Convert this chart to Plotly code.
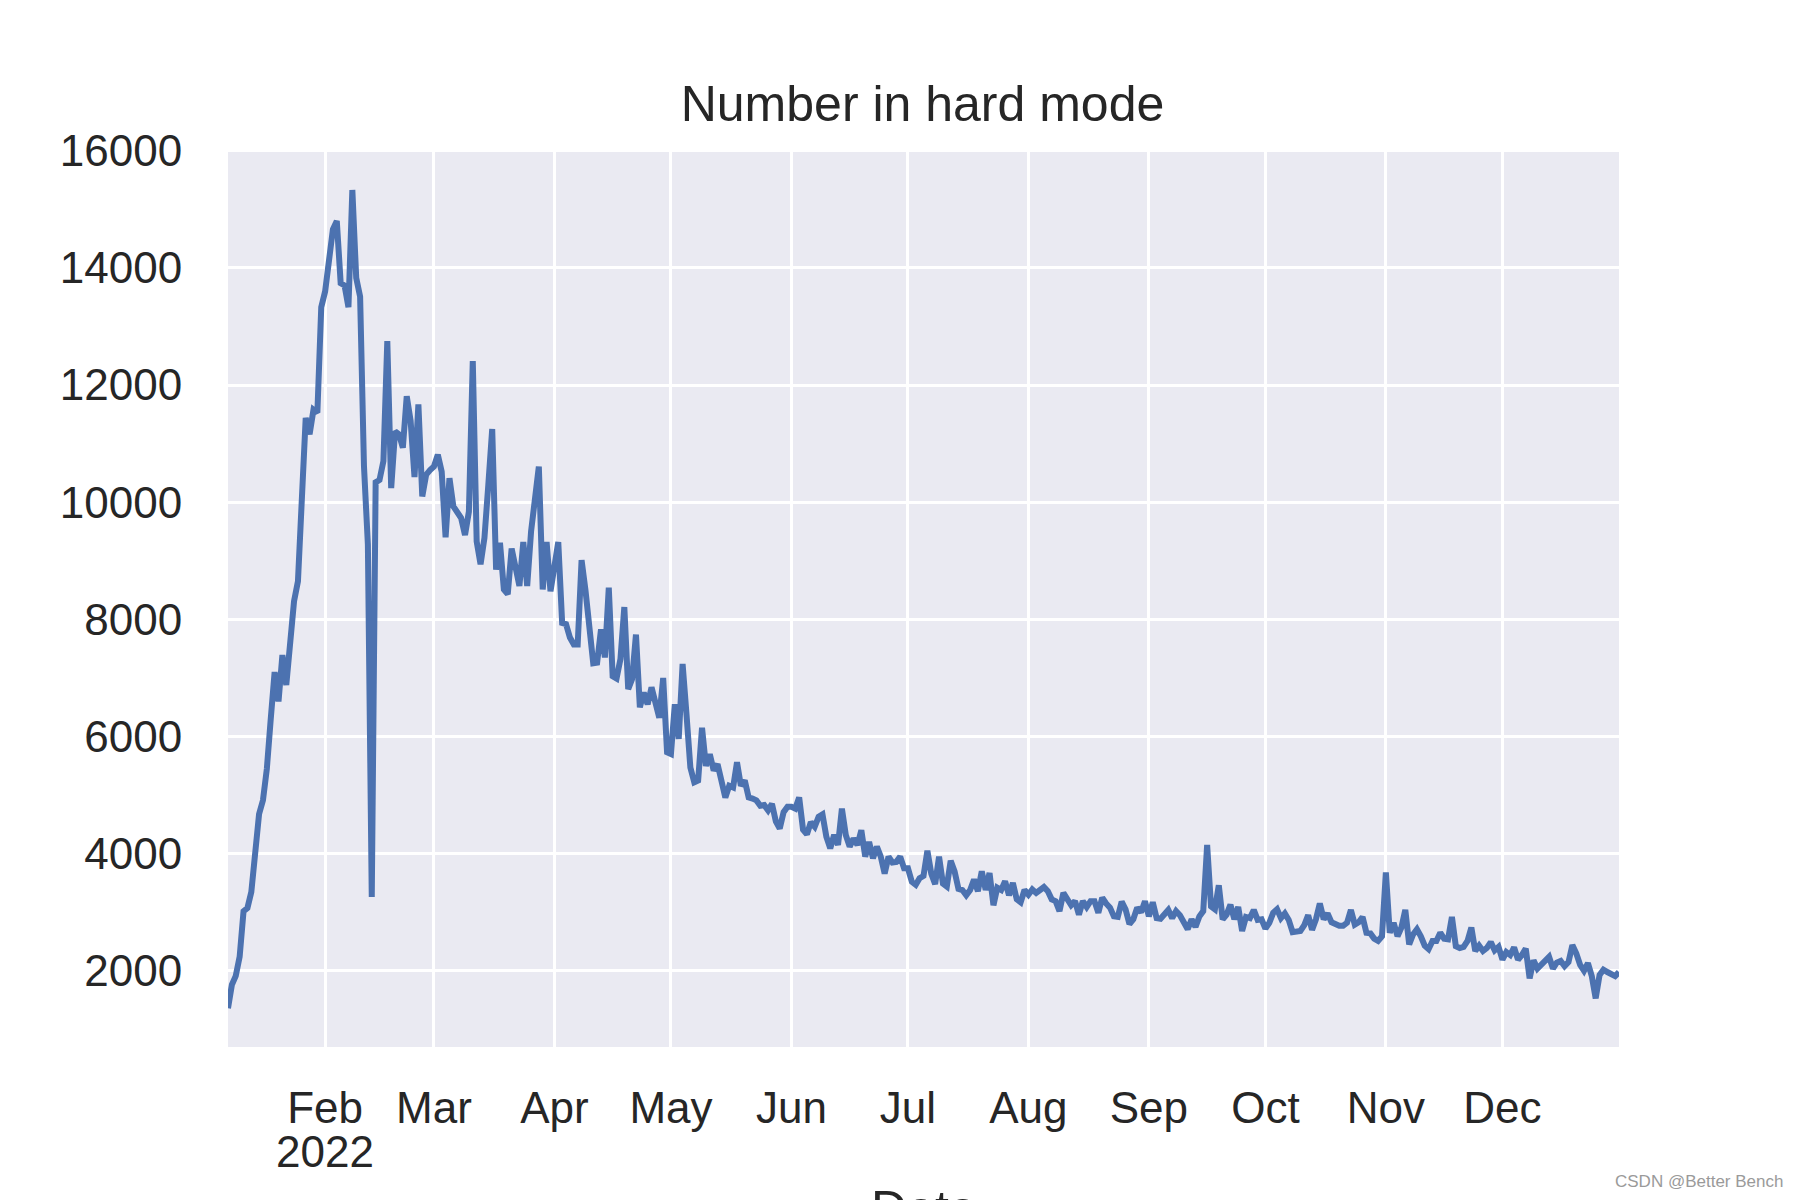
import pandas as pd
import plotly.graph_objects as go

start_date = "2022-01-07"
end_date = "2022-12-31"

jan = [1362, 1763, 1913, 2242, 3017, 3073, 3345, 4072, 4677, 4913, 5450, 6300, 7100, 6600,
       7390, 6880, 7700, 8310, 8650, 10050, 11440, 11160, 11580, 11530, 13330]
feb = [13600, 14200, 14660, 14800, 13740, 13700, 13330, 15330, 13830, 13510, 10610, 9280, 3260,
       10340, 10380, 10700, 12750, 10240, 11210, 11160, 10930, 11810, 11390, 10430, 11670, 10100,
       10470, 10550]
mar = [10610, 10810, 10520, 9400, 10410, 9930, 9820, 9730, 9440, 9840, 12410, 9330, 8940, 9390,
       10300, 11250, 8850, 9310, 8510, 8430, 9210, 8850, 8570, 9320, 8570, 9500, 10180, 10610,
       8510, 9320, 8480]
apr = [8940, 9320, 7940, 7920, 7690, 7570, 7570, 9010, 8500, 7800, 7250, 7260, 7830, 7350, 8540,
       7030, 6990, 7320, 8210, 6810, 6980, 7740, 6500, 6750, 6550, 6840, 6520, 6320, 7000, 5730]
may = [5700, 6550, 5960, 7240, 6380, 5470, 5220, 5250, 6150, 5500, 5700, 5420, 5530, 5250, 4960,
       5160, 5130, 5560, 5160, 5250, 4960, 4940, 4910, 4820, 4830, 4740, 4850, 4550, 4430, 4710,
       4800]
jun = [4800, 4770, 4960, 4410, 4330, 4540, 4460, 4630, 4670, 4290, 4090, 4320, 4150, 4770, 4320,
       4120, 4260, 4150, 4400, 3950, 4200, 3920, 4120, 3950, 3660, 3950, 3850, 3860, 3950, 3750]
jul = [3750, 3520, 3470, 3580, 3620, 4050, 3660, 3480, 3950, 3490, 3440, 3880, 3700, 3400, 3380,
       3290, 3380, 3560, 3360, 3700, 3380, 3670, 3120, 3420, 3380, 3530, 3290, 3500, 3220, 3170,
       3380]
aug = [3300, 3390, 3330, 3380, 3430, 3360, 3220, 3190, 3020, 3330, 3230, 3120, 3190, 2960, 3190,
       3090, 3190, 3190, 2990, 3250, 3150, 3080, 2930, 2920, 3180, 3050, 2800, 2880, 3080, 3000,
       3190]
sep = [2930, 3170, 2900, 2890, 2960, 3040, 2900, 3020, 2950, 2850, 2710, 2880, 2750, 2930, 3020,
       4150, 3100, 3050, 3460, 2880, 2960, 3130, 2880, 3090, 2680, 2920, 2900, 3040, 2870, 2880]
oct_ = [2720, 2820, 2990, 3050, 2900, 2980, 2870, 2660, 2660, 2680, 2780, 2950, 2700, 2880, 3150,
        2880, 2980, 2830, 2800, 2770, 2770, 2820, 3040, 2790, 2830, 2920, 2650, 2640, 2550, 2510,
        2590]
nov = [3680, 2650, 2820, 2590, 2740, 3040, 2450, 2620, 2710, 2590, 2430, 2370, 2510, 2510, 2650,
       2550, 2540, 2920, 2420, 2390, 2410, 2510, 2740, 2340, 2430, 2340, 2390, 2490, 2350, 2410]
dec = [2190, 2320, 2270, 2400, 2190, 2270, 2380, 1870, 2180, 2040, 2100, 2150, 2240, 2040, 2140,
       2170, 2080, 2150, 2440, 2300, 2100, 2000, 2130, 1910, 1530, 1930, 2020, 1980, 1930, 1910,
       1980]

hard_mode = jan + feb + mar + apr + may + jun + jul + aug + sep + oct_ + nov + dec
dates = pd.date_range(start_date, end_date, freq="D")

month_ticks = ["2022-02-01", "2022-03-01", "2022-04-01", "2022-05-01", "2022-06-01", "2022-07-01",
               "2022-08-01", "2022-09-01", "2022-10-01", "2022-11-01", "2022-12-01"]
month_labels = ["Feb", "Mar", "Apr", "May", "Jun", "Jul", "Aug", "Sep", "Oct", "Nov", "Dec"]
year_label = "2022"
y_ticks = [2000, 4000, 6000, 8000, 10000, 12000, 14000, 16000]

FONT = "Liberation Sans, Arial, Helvetica, sans-serif"
TXT = "#262626"

fig = go.Figure()
fig.add_trace(go.Scatter(x=dates, y=hard_mode, mode="lines",
                         line=dict(color="#4C72B0", width=6), showlegend=False))

fig.update_layout(
    width=1800, height=1200,
    margin=dict(l=228, r=181, t=149, b=153),
    paper_bgcolor="white", plot_bgcolor="#EAEAF2",
    font=dict(family=FONT, color=TXT, size=44),
    title=dict(text="Number in hard mode", x=0.5125, xanchor="center",
               y=1 - 103 / 1200, yanchor="middle", yref="container",
               font=dict(size=50, color=TXT, family=FONT)),
    xaxis=dict(type="date", range=[start_date, end_date], tickvals=month_ticks,
               ticktext=month_labels, showgrid=True, gridcolor="white", gridwidth=3,
               zeroline=False, showline=False, ticks="outside", ticklen=22,
               tickcolor="rgba(0,0,0,0)", automargin=False,
               tickfont=dict(size=44, color=TXT, family=FONT)),
    yaxis=dict(range=[700, 16030], tickvals=y_ticks, ticktext=[str(v) for v in y_ticks],
               showgrid=True, gridcolor="white", gridwidth=3, zeroline=False, showline=False,
               ticks="outside", ticklen=36, tickcolor="rgba(0,0,0,0)", automargin=False,
               tickfont=dict(size=44, color=TXT, family=FONT)),
)

fig.add_annotation(text=year_label, xref="x", yref="paper", x=month_ticks[0], y=-0.1164,
                   xanchor="center", yanchor="middle", showarrow=False,
                   font=dict(size=44, color=TXT, family=FONT))
fig.add_annotation(text="Date", xref="paper", yref="paper", x=0.5, y=-0.147,
                   xanchor="center", yanchor="top", showarrow=False,
                   font=dict(size=50, color=TXT, family=FONT))
fig.add_annotation(text="CSDN @Better Bench", xref="paper", yref="paper", x=1.119, y=-0.150,
                   xanchor="right", yanchor="middle", showarrow=False,
                   font=dict(size=17, color="#9a9a9a", family=FONT))

fig.write_html("out.html")
